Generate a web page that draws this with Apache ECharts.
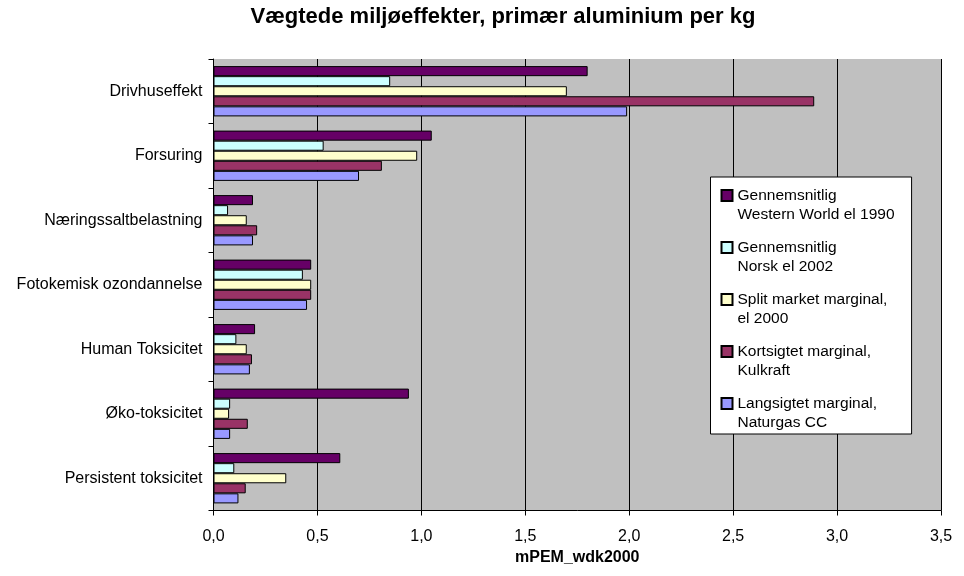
<!DOCTYPE html>
<html>
<head>
<meta charset="utf-8">
<script src="https://cdn.jsdelivr.net/npm/echarts@6/dist/echarts.min.js"></script>
<style>
  html, body { margin: 0; padding: 0; background: #fff; }
  #chart { width: 964px; height: 576px; }
</style>
</head>
<body>
<div id="chart"></div>
<script>
// Impact categories, listed top to bottom
const categories = [
  'Drivhuseffekt',
  'Forsuring',
  'Næringssaltbelastning',
  'Fotokemisk ozondannelse',
  'Human Toksicitet',
  'Øko-toksicitet',
  'Persistent toksicitet'
];

// Electricity scenarios (legend names, two lines each)
const seriesNames = [
  'Gennemsnitlig\nWestern World el 1990',
  'Gennemsnitlig\nNorsk el 2002',
  'Split market marginal,\nel 2000',
  'Kortsigtet marginal,\nKulkraft',
  'Langsigtet marginal,\nNaturgas CC'
];

// Weighted impacts, mPEM_wdk2000 per kg primary aluminium
const westernWorld1990 = [1.80, 1.05, 0.19, 0.47, 0.20, 0.94, 0.61];
const norsk2002        = [0.85, 0.53, 0.07, 0.43, 0.11, 0.08, 0.10];
const splitMarket2000  = [1.70, 0.98, 0.16, 0.47, 0.16, 0.075, 0.35];
const kortsigtetKul    = [2.89, 0.81, 0.21, 0.47, 0.185, 0.165, 0.155];
const langsigtetGas    = [1.99, 0.70, 0.19, 0.45, 0.175, 0.08, 0.12];

const seriesValues = [westernWorld1990, norsk2002, splitMarket2000, kortsigtetKul, langsigtetGas];
const seriesColors = ['#660066', '#CCFFFF', '#FFFFCC', '#993366', '#9999FF'];

// X axis ticks
const xMin = 0, xMax = 3.5, xStep = 0.5;

const FONT = '"Liberation Sans", Arial, sans-serif';

// Legend marker: square at the top, sized to the two-line label height
const legendIcon = 'path://M0,0H11V11H0Z M0,30';

const chart = echarts.init(document.getElementById('chart'), null, { renderer: 'canvas' });

chart.setOption({
  backgroundColor: '#ffffff',
  animation: false,
  textStyle: { fontFamily: FONT, color: '#000' },
  title: {
    text: 'Vægtede miljøeffekter, primær aluminium per kg',
    left: 503,
    textAlign: 'center',
    top: 6,
    padding: 0,
    textStyle: { fontFamily: FONT, fontSize: 22, fontWeight: 'bold', color: '#000' }
  },
  grid: {
    left: 213.5,
    right: 23,
    top: 59,
    bottom: 65.5,
    show: true,
    backgroundColor: '#C0C0C0',
    borderWidth: 0
  },
  legend: {
    orient: 'vertical',
    left: 710.5,
    top: 177,
    padding: [9, 17, 2, 10],
    itemWidth: 11,
    itemHeight: 30,
    itemGap: 14,
    icon: legendIcon,
    backgroundColor: '#ffffff',
    borderColor: '#000',
    borderWidth: 1,
    textStyle: { fontFamily: FONT, fontSize: 15.5, lineHeight: 19, color: '#000' },
    data: seriesNames
  },
  xAxis: {
    type: 'value',
    min: xMin,
    max: xMax,
    interval: xStep,
    name: 'mPEM_wdk2000',
    nameLocation: 'middle',
    nameGap: 37,
    nameTextStyle: { fontFamily: FONT, fontSize: 16, fontWeight: 'bold', color: '#000' },
    axisLine: { show: true, lineStyle: { color: '#000', width: 1 } },
    axisTick: { show: true, length: 5, lineStyle: { color: '#000' } },
    axisLabel: {
      margin: 18,
      fontFamily: FONT,
      fontSize: 16,
      color: '#000',
      formatter: v => v.toFixed(1).replace('.', ',')
    },
    splitLine: { show: true, lineStyle: { color: '#000', width: 1 } }
  },
  yAxis: {
    type: 'category',
    inverse: true,
    data: categories,
    axisLine: { show: true, lineStyle: { color: '#000', width: 1 } },
    axisTick: { show: true, length: 5, lineStyle: { color: '#000' } },
    axisLabel: { margin: 11, fontFamily: FONT, fontSize: 16, color: '#000' },
    splitLine: { show: false }
  },
  series: seriesNames.map((name, i) => ({
    name: name,
    type: 'bar',
    data: seriesValues[i],
    barGap: '0%',
    barCategoryGap: '22%',
    itemStyle: { color: seriesColors[i], borderColor: '#000', borderWidth: 1 }
  }))
});
</script>
</body>
</html>
